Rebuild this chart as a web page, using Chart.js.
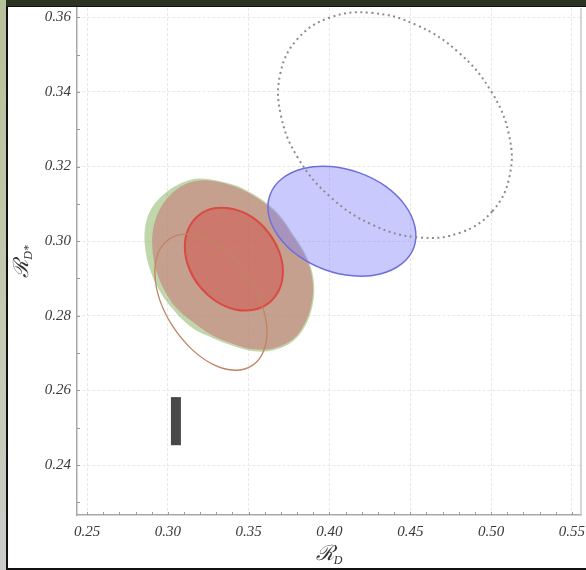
<!DOCTYPE html>
<html><head><meta charset="utf-8">
<script src="https://cdn.jsdelivr.net/npm/chart.js@4/dist/chart.umd.min.js"></script>
<style>
html,body{margin:0;padding:0;width:586px;height:570px;overflow:hidden;background:#fff;}
#wrap{position:relative;width:586px;height:570px;}
.f{position:absolute;}
canvas{position:absolute;left:0;top:0;}
</style></head><body>
<div id="wrap">
<div class="f" style="left:0;top:0;width:6px;height:570px;background:linear-gradient(#b5c29a,#c4ccb4 60%,#c9cdc9);"></div>
<div class="f" style="left:6px;top:0;width:580px;height:6px;background:#2c3321;"></div>
<div class="f" style="left:6px;top:6px;width:2px;height:564px;background:#111;"></div>
<div class="f" style="left:6px;top:6px;width:580px;height:1px;background:#111;"></div>
<div class="f" style="left:6px;top:568px;width:580px;height:2px;background:#111;"></div>
<canvas id="c" width="586" height="570"></canvas>
</div>
<script>
// Axis ticks
const xTicks = [0.25, 0.30, 0.35, 0.40, 0.45, 0.50, 0.55];
const yTicks = [0.24, 0.26, 0.28, 0.30, 0.32, 0.34, 0.36];

// Contours: [R_D, R_D*]
const greenRegion = [[0.3198,0.3168],[0.3392,0.3153],[0.3505,0.3132],[0.3612,0.3102],[0.3699,0.3066],[0.3769,0.3022],[0.3838,0.2976],[0.3887,0.2927],[0.3906,0.2876],[0.3893,0.2823],[0.3848,0.2771],[0.3772,0.2731],[0.3658,0.2708],[0.3533,0.2705],[0.3407,0.2719],[0.3280,0.2740],[0.3150,0.2768],[0.3030,0.2818],[0.2945,0.2870],[0.2888,0.2926],[0.2860,0.2981],[0.2858,0.3032],[0.2889,0.3080],[0.2963,0.3121],[0.3080,0.3155]];
const redRegion = [[0.3230,0.3163],[0.3390,0.3150],[0.3501,0.3129],[0.3607,0.3099],[0.3693,0.3064],[0.3762,0.3021],[0.3830,0.2976],[0.3879,0.2928],[0.3898,0.2877],[0.3886,0.2826],[0.3842,0.2775],[0.3768,0.2735],[0.3656,0.2713],[0.3533,0.2710],[0.3409,0.2724],[0.3285,0.2745],[0.3173,0.2777],[0.3050,0.2822],[0.2975,0.2872],[0.2926,0.2924],[0.2905,0.2976],[0.2908,0.3030],[0.2944,0.3080],[0.3006,0.3120],[0.3105,0.3152]];
const redEllipse = [[0.3627,0.2835],[0.3530,0.2816],[0.3415,0.2817],[0.3298,0.2839],[0.3198,0.2878],[0.3131,0.2928],[0.3105,0.2982],[0.3126,0.3032],[0.3190,0.3069],[0.3287,0.3088],[0.3402,0.3086],[0.3519,0.3065],[0.3619,0.3025],[0.3686,0.2975],[0.3712,0.2921],[0.3691,0.2872]];
const brownEllipse = [[0.3523,0.2667],[0.3414,0.2654],[0.3282,0.2669],[0.3149,0.2710],[0.3033,0.2770],[0.2952,0.2840],[0.2920,0.2910],[0.2940,0.2968],[0.3009,0.3006],[0.3118,0.3019],[0.3250,0.3003],[0.3383,0.2963],[0.3499,0.2903],[0.3580,0.2832],[0.3613,0.2763],[0.3592,0.2705]];
const blueEllipse = [[0.4522,0.2983],[0.4446,0.2939],[0.4314,0.2912],[0.4146,0.2907],[0.3968,0.2924],[0.3806,0.2961],[0.3686,0.3012],[0.3624,0.3069],[0.3632,0.3124],[0.3707,0.3168],[0.3839,0.3195],[0.4007,0.3200],[0.4186,0.3183],[0.4348,0.3147],[0.4468,0.3096],[0.4529,0.3038]];
const dottedEllipse = [[0.5007,0.3080],[0.4810,0.3023],[0.4551,0.3010],[0.4270,0.3043],[0.4009,0.3117],[0.3808,0.3221],[0.3699,0.3338],[0.3696,0.3450],[0.3802,0.3542],[0.3999,0.3599],[0.4258,0.3612],[0.4540,0.3579],[0.4801,0.3505],[0.5001,0.3401],[0.5111,0.3284],[0.5113,0.3172]];
const barX = 0.305;
const barY = [0.2453, 0.2582];

const pts = a => a.map(p => ({x: p[0], y: p[1]}));

const loopPlugin = {
  id: 'loop',
  afterDatasetsUpdate(chart) {
    chart.data.datasets.forEach((ds, i) => {
      if (ds.closed) {
        const m = chart.getDatasetMeta(i);
        if (m.dataset) { m.dataset._loop = true; m.dataset._fullLoop = true; }
      }
    });
  }
};

const decoPlugin = {
  id: 'deco',
  afterDraw(chart) {
    const ctx = chart.ctx, a = chart.chartArea;
    const xs = chart.scales.x, ys = chart.scales.y;
    ctx.save();
    ctx.strokeStyle = '#c8c8c8'; ctx.lineWidth = 1.5;
    ctx.beginPath(); ctx.moveTo(a.right, a.top); ctx.lineTo(a.right, a.bottom); ctx.stroke();
    ctx.strokeStyle = '#9a9a9a'; ctx.lineWidth = 1;
    for (let v = 0.25; v <= 0.555; v += 0.01) {
      const px = Math.round(xs.getPixelForValue(v)) + 0.5;
      ctx.beginPath(); ctx.moveTo(px, a.bottom); ctx.lineTo(px, a.bottom - 3); ctx.stroke();
    }
    for (let v = 0.23; v <= 0.362; v += 0.01) {
      const py = Math.round(ys.getPixelForValue(v)) + 0.5;
      ctx.beginPath(); ctx.moveTo(a.left, py); ctx.lineTo(a.left + 3, py); ctx.stroke();
    }
    ctx.fillStyle = '#333';
    ctx.textBaseline = 'alphabetic';
    const cx = (a.left + a.right) / 2;
    const big = 'italic 21px "DejaVu Serif", "Liberation Serif", serif';
    const small = 'italic 12px "Liberation Serif", serif';
    ctx.font = big;
    const rw = ctx.measureText('ℛ').width;
    ctx.font = small;
    const dw = ctx.measureText('D').width;
    let x0 = cx - (rw + dw) / 2;
    ctx.font = big; ctx.fillText('ℛ', x0, 560);
    ctx.font = small; ctx.fillText('D', x0 + rw, 564);
    ctx.translate(28, (a.top + a.bottom) / 2);
    ctx.rotate(-Math.PI / 2);
    ctx.font = small;
    const dw2 = ctx.measureText('D*').width;
    x0 = -(rw + dw2) / 2;
    ctx.font = big; ctx.fillText('ℛ', x0, 0);
    ctx.font = small; ctx.fillText('D*', x0 + rw, 4);
    ctx.restore();
  }
};

const tickFont = {family: '"Liberation Serif", serif', style: 'italic', size: 15};

new Chart(document.getElementById('c'), {
  type: 'scatter',
  data: {
    datasets: [
      {data: [{x: barX, y: barY[0]}, {x: barX, y: barY[1]}], showLine: true, borderColor: '#484848', borderWidth: 10, borderCapStyle: 'butt', pointRadius: 0, order: 0},
      {data: pts(dottedEllipse), closed: true, showLine: true, tension: 0.4, borderColor: '#8c8c8c', borderWidth: 2, borderDash: [2, 3.5], pointRadius: 0, fill: false, order: 1},
      {data: pts(blueEllipse), closed: true, showLine: true, tension: 0.4, borderColor: '#6f6fdc', borderWidth: 1.5, backgroundColor: 'rgba(130,130,250,0.43)', fill: 'shape', pointRadius: 0, order: 2},
      {data: pts(brownEllipse), closed: true, showLine: true, tension: 0.4, borderColor: '#c08462', borderWidth: 1.3, pointRadius: 0, fill: false, order: 3},
      {data: pts(redEllipse), closed: true, showLine: true, tension: 0.4, borderColor: '#d84a42', borderWidth: 2, backgroundColor: 'rgba(215,60,55,0.4)', fill: 'shape', pointRadius: 0, order: 4},
      {data: pts(redRegion), closed: true, showLine: true, tension: 0.35, borderWidth: 0, borderColor: 'rgba(0,0,0,0)', backgroundColor: 'rgba(205,105,115,0.5)', fill: 'shape', pointRadius: 0, order: 5},
      {data: pts(greenRegion), closed: true, showLine: true, tension: 0.35, borderWidth: 0, borderColor: 'rgba(0,0,0,0)', backgroundColor: 'rgba(130,175,90,0.5)', fill: 'shape', pointRadius: 0, order: 6}
    ]
  },
  options: {
    responsive: false,
    animation: false,
    events: [],
    layout: {padding: {left: 0, top: 8, right: 5, bottom: 0}},
    plugins: {legend: {display: false}, tooltip: {enabled: false}},
    scales: {
      x: {
        type: 'linear', min: 0.2438, max: 0.5556,
        afterBuildTicks: s => { s.ticks = xTicks.map(v => ({value: v})); },
        afterFit: s => { s.height = 55; s.paddingLeft = 0; s.paddingRight = 0; },
        ticks: {callback: v => v.toFixed(2), font: tickFont, color: '#3a3a3a', padding: 8, maxRotation: 0, autoSkip: false},
        grid: {color: '#e8e8e8', drawTicks: false, lineWidth: 1},
        border: {color: '#a8a8a8', width: 1.5, dash: [3, 2]}
      },
      y: {
        type: 'linear', min: 0.2266, max: 0.3625,
        afterBuildTicks: s => { s.ticks = yTicks.map(v => ({value: v})); },
        afterFit: s => { s.width = 77; s.paddingTop = 0; s.paddingBottom = 0; },
        ticks: {callback: v => v.toFixed(2), font: tickFont, color: '#3a3a3a', padding: 6, autoSkip: false},
        grid: {color: '#e8e8e8', drawTicks: false, lineWidth: 1},
        border: {color: '#a8a8a8', width: 1.5, dash: [3, 2]}
      }
    }
  },
  plugins: [loopPlugin, decoPlugin]
});
</script>
</body></html>
